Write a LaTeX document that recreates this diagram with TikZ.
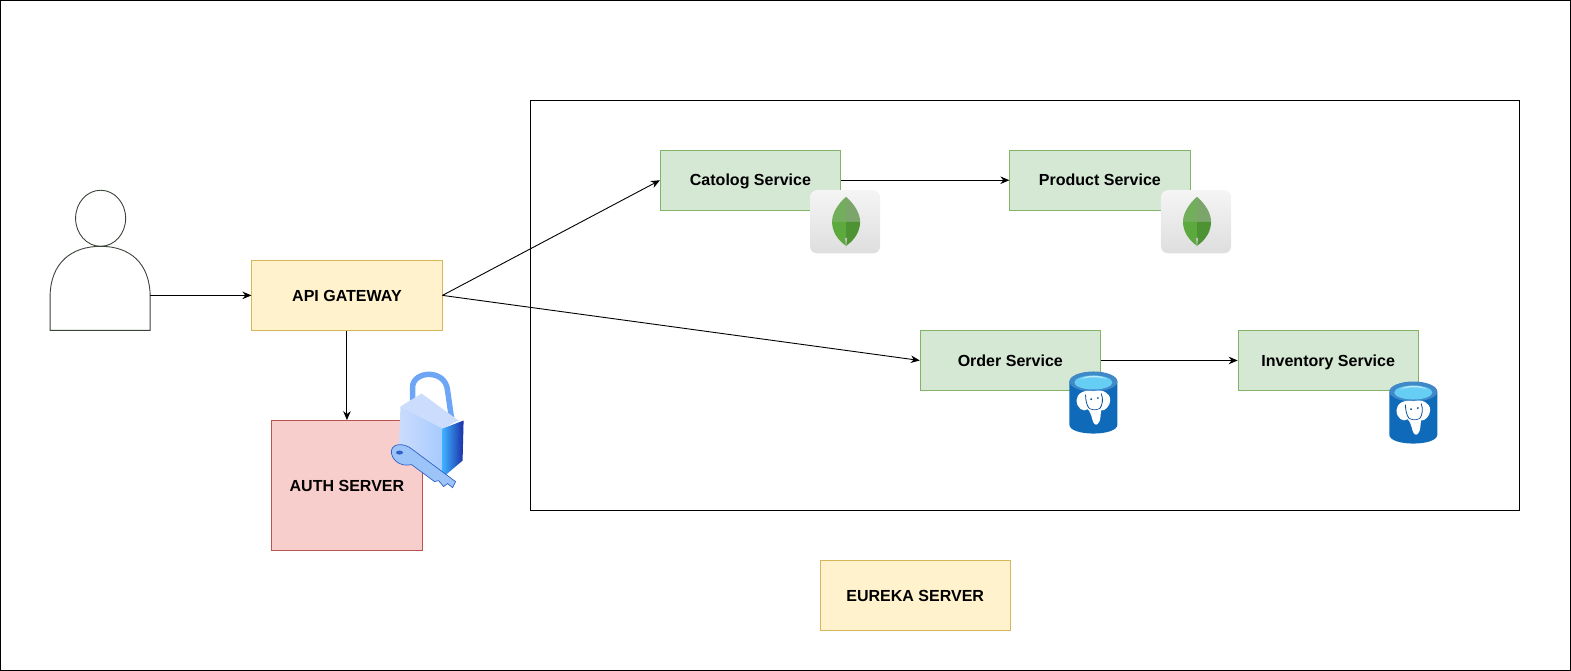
\documentclass[tikz,border=0pt]{standalone}
\usepackage{fontspec}
\setmainfont{Liberation Sans}
\usetikzlibrary{arrows.meta,shapes.geometric}
\definecolor{svcfill}{HTML}{D5E8D4}
\definecolor{svcline}{HTML}{82B366}
\definecolor{yellowfill}{HTML}{FFF2CC}
\definecolor{yellowline}{HTML}{D6B656}
\definecolor{authfill}{HTML}{F8CECC}
\definecolor{authline}{HTML}{B85450}
\definecolor{pgblue}{HTML}{0F6BBA}
\definecolor{pgdark}{HTML}{0A4F96}
\definecolor{leafa}{HTML}{72AE5C}
\definecolor{leafb}{HTML}{7BA56B}
\definecolor{leafc}{HTML}{5CA93E}
\definecolor{leafd}{HTML}{4E9333}
\definecolor{userline}{HTML}{3A4437}
\definecolor{lockpale}{HTML}{CBDCFC}
\definecolor{lockmid}{HTML}{A6CBFF}
\definecolor{lockcyan}{HTML}{3FB0FF}
\definecolor{lockdark}{HTML}{1A2FA8}
\definecolor{lockring}{HTML}{6FA5F5}
\definecolor{keyfill}{HTML}{9CC4F8}
\definecolor{keyline}{HTML}{2F62C8}
\tikzset{
  box/.style={draw, inner sep=0pt, line width=0.8pt, text height=11.5pt, text depth=0pt, font=\fontsize{16}{19}\selectfont\bfseries},
  svcbox/.style={box, fill=svcfill, draw=svcline, minimum width=180pt, minimum height=60pt},
  yellowbox/.style={box, fill=yellowfill, draw=yellowline, minimum width=190pt, minimum height=70pt},
  authbox/.style={box, fill=authfill, draw=authline, minimum width=150pt, minimum height=130pt},
  conn/.style={draw, line width=0.9pt, ->, >={Stealth[length=9pt,width=7.5pt]}},
  mongoicon/.pic={
    \path[rounded corners=7pt, top color=white!96!black, bottom color=black!13] (-36,-31.5) rectangle (34,31.5);
    \fill[leafa] (0,-25) .. controls (-9,-17) and (-14,-8) .. (-14,0) -- (0,0) -- cycle;
    \fill[leafb] (0,-25) .. controls (9,-17) and (14,-8) .. (14,0) -- (0,0) -- cycle;
    \fill[leafc] (0,24) .. controls (-9,18) and (-14,9) .. (-14,0) -- (0,0) -- cycle;
    \fill[leafd] (0,24) .. controls (9,18) and (14,9) .. (14,0) -- (0,0) -- cycle;
    \fill[black!25] (-1,16) -- (0,27) -- (1,16) -- cycle;
  },
  pgicon/.pic={
    \fill[pgblue] (-24,-21) -- (-24,22) .. controls (-24,34) and (24,34) .. (24,22) -- (24,-21) -- cycle;
    \fill[pgblue!80!white] (0,-21) ellipse (24 and 10);
    \fill[cyan!60!white] (0,-20) ellipse (19 and 7);
    \fill[cyan!25!white] (-13,-23) .. controls (-5,-28) and (6,-28) .. (14,-23) .. controls (6,-26) and (-5,-26) .. (-13,-23) -- cycle;
    \begin{scope}[scale=1.12]
    \fill[white] (0,-10) .. controls (8,-12) and (15,-9) .. (15,-2) .. controls (15,3) and (10,8) .. (7,7) .. controls (6,11) and (7,16) .. (4,19) .. controls (2,21) and (0,19) .. (-1,15) .. controls (-2,11) and (-3,8) .. (-5,6) .. controls (-9,9) and (-15,5) .. (-15,-2) .. controls (-15,-8) and (-8,-12) .. (0,-10) -- cycle;
    \draw[pgdark, line width=0.8pt] (-7,-7) .. controls (-7,-2) and (-6,2) .. (-4,5);
    \draw[pgdark, line width=0.8pt] (7,-8) .. controls (9,-3) and (8,2) .. (6,5);
    \draw[pgdark, line width=0.6pt] (-4,5) .. controls (-1,7) and (3,7) .. (6,5);
    \fill[pgdark] (-2,-3) circle (0.9) (4,-4) circle (0.9);
    \end{scope}
  }
}
\begin{document}
\begin{tikzpicture}[x=1pt,y=-1pt]
        \useasboundingbox (0,0) rectangle (1569,670);
        \draw[line width=1pt] (0.5,0.5) rectangle (1568,669.5);
        \draw[line width=1pt] (529.5,100) rectangle (1518,510);

        \node (head) at (100.5,218) [draw=userline, line width=0.9pt, ellipse, minimum width=50pt, minimum height=56pt, inner sep=0pt] {};
        \draw[userline, line width=0.9pt] (50,330) -- (50,297) .. controls (50,262) and (72,246) .. (100.5,246) .. controls (129,246) and (150,262) .. (150,297) -- (150,330) -- cycle;
        \coordinate (user) at (150,295);

        \node (gateway) at (346.5,295) [yellowbox] {API GATEWAY};
        \node (auth) at (346.5,485) [authbox] {AUTH SERVER};
        \node (catalog) at (749.5,180) [svcbox] {Catolog Service};
        \node (product) at (1098.5,180) [svcbox] {Product Service};
        \node (order) at (1009,360) [svcbox] {Order Service};
        \node (inventory) at (1326.5,360) [svcbox] {Inventory Service};
        \node (eureka) at (914,595) [yellowbox] {EUREKA SERVER};

        \draw[conn] (user) -- (gateway);
        \draw[conn] (gateway.south) -- (auth.north);
        \draw[conn] (gateway.east) -- (catalog.west);
        \draw[conn] (gateway.east) -- (order.west);
        \draw[conn] (catalog.east) -- (product.west);
        \draw[conn] (order.east) -- (inventory.west);

        \pic at (845,221.5) {mongoicon};
        \pic at (1195.5,221.5) {mongoicon};
        \pic at (1092,402) {pgicon};
        \pic at (1411.5,412) {pgicon};

        \draw[line width=5.5pt, lockring] (412,400) -- (412,387) .. controls (412,370) and (445,368) .. (447,390) -- (451,418);
        \fill[lockpale] (400,406) -- (421,393) -- (458,420) -- (442,428) -- cycle;
        \path[left color=lockpale, right color=lockmid] (400,406) -- (442,428) -- (442,472) -- (398,450) -- cycle;
        \path[left color=lockcyan, right color=lockdark] (442,428) -- (463,420) -- (462,460) -- (442,477) -- cycle;
        \fill[keyfill, draw=keyline, line width=0.7pt] (391,453) .. controls (389,443) and (403,441) .. (412,449) -- (455,481) -- (452,487) -- (447,483) -- (443,486) -- (438,480) -- (434,481) -- (411,464) .. controls (402,466) and (393,462) .. (391,453) -- cycle;
        \fill[keyline] (399,452) ellipse (3.5 and 2);
    \end{tikzpicture}
\end{document}
